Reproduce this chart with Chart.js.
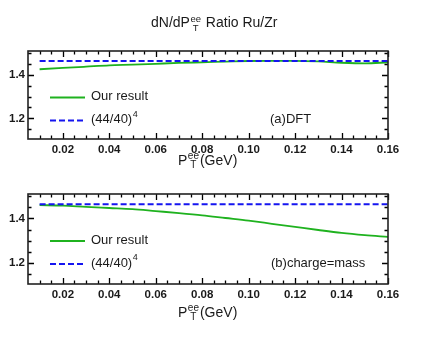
<!DOCTYPE html>
<html>
<head>
<meta charset="utf-8">
<script src="https://cdn.jsdelivr.net/npm/chart.js@4.4.1/dist/chart.umd.min.js"></script>
<style>
  html, body { margin: 0; padding: 0; background: #fff; }
  #wrap { position: relative; width: 425px; height: 347px; overflow: hidden; }
  canvas { position: absolute; left: 0; }
  #c1 { top: 0; }
  #c2 { top: 170px; }
</style>
</head>
<body>
<div id="wrap">
  <canvas id="c1" width="425" height="170"></canvas>
  <canvas id="c2" width="425" height="177"></canvas>
</div>
<script>
// P_T^ee in GeV
const pt = [0.01, 0.02, 0.03, 0.04, 0.05, 0.06, 0.07, 0.08, 0.09, 0.10, 0.11, 0.12, 0.13, 0.14, 0.15, 0.16];
// (a) DFT
const resultDFT = [1.426, 1.432, 1.438, 1.444, 1.447, 1.451, 1.455, 1.458, 1.461, 1.464, 1.465, 1.465, 1.462, 1.456, 1.453, 1.458];
// (b) charge = mass
const resultCM = [1.460, 1.458, 1.452, 1.447, 1.442, 1.433, 1.424, 1.414, 1.402, 1.390, 1.376, 1.362, 1.348, 1.335, 1.325, 1.317];
// (44/40)^4
const ratio4 = pt.map(() => Math.pow(44 / 40, 4));

const xTicks = [0.02, 0.04, 0.06, 0.08, 0.10, 0.12, 0.14, 0.16];
const yTicks = [1.2, 1.4];

const GROEN = '#1fb21f';
const BLAUW = '#1515f0';
const INKT = '#1a1a1a';
const FONT = 'Arial, "Liberation Sans", sans-serif';

function tekst(ctx, s, x, y, size) {
  ctx.font = size + 'px ' + FONT;
  ctx.fillText(s, x, y);
  return x + ctx.measureText(s).width;
}

// P met ee erboven en T eronder
function tekenPT(ctx, x, y, size) {
  ctx.textBaseline = 'alphabetic';
  ctx.textAlign = 'left';
  x = tekst(ctx, 'P', x, y, size);
  const klein = Math.round(size * 0.68);
  ctx.font = klein + 'px ' + FONT;
  const w1 = ctx.measureText('ee').width;
  const w2 = ctx.measureText('T').width;
  ctx.fillText('ee', x + 0.5, y - size * 0.4);
  ctx.fillText('T', x + 0.5 + (w1 - w2) / 2, y + size * 0.24);
  return x + Math.max(w1, w2) + 1.5;
}

const decoratie = {
  id: 'decoratie',
  afterDraw(chart, args, opts) {
    const ctx = chart.ctx;
    const a = chart.chartArea;
    const xs = chart.scales.x, ys = chart.scales.y;
    ctx.save();
    ctx.strokeStyle = '#000';
    ctx.lineWidth = 1.3;
    ctx.setLineDash([]);
    // x streepjes onder en boven, naar binnen
    for (let i = 2; i <= 32; i++) {
      const px = Math.round(xs.getPixelForValue(i * 0.005)) + 0.5;
      const lang = i % 4 === 0 ? 6 : 3.5;
      ctx.beginPath();
      ctx.moveTo(px, a.bottom); ctx.lineTo(px, a.bottom - lang);
      ctx.moveTo(px, a.top); ctx.lineTo(px, a.top + lang);
      ctx.stroke();
    }
    // y streepjes links en rechts
    for (let i = 23; i <= 30; i++) {
      const py = Math.round(ys.getPixelForValue(i * 0.05)) + 0.5;
      if (py < a.top || py > a.bottom) continue;
      const lang = i % 4 === 0 ? 6 : 3.5;
      ctx.beginPath();
      ctx.moveTo(a.left, py); ctx.lineTo(a.left + lang, py);
      ctx.moveTo(a.right, py); ctx.lineTo(a.right - lang, py);
      ctx.stroke();
    }
    ctx.strokeStyle = '#222';
    ctx.lineWidth = 1.6;
    ctx.strokeRect(a.left, a.top, a.right - a.left, a.bottom - a.top);

    // legenda
    const lx = 50, tx = 91;
    ctx.lineWidth = 2;
    ctx.strokeStyle = GROEN;
    ctx.beginPath(); ctx.moveTo(lx, opts.leg1); ctx.lineTo(lx + 35, opts.leg1); ctx.stroke();
    ctx.strokeStyle = BLAUW;
    ctx.setLineDash([6, 3]);
    ctx.beginPath(); ctx.moveTo(lx, opts.leg2); ctx.lineTo(lx + 35, opts.leg2); ctx.stroke();
    ctx.setLineDash([]);
    ctx.fillStyle = INKT;
    ctx.textAlign = 'left';
    ctx.textBaseline = 'middle';
    tekst(ctx, 'Our result', tx, opts.leg1 - 1, 13);
    const e = tekst(ctx, '(44/40)', tx, opts.leg2 - 1, 13);
    tekst(ctx, '4', e + 0.5, opts.leg2 - 6, 9);
    tekst(ctx, opts.label, opts.labelX, opts.leg2 - 1, 13);

    // as-titel
    const x = tekenPT(ctx, 178, opts.asY, 14);
    tekst(ctx, '(GeV)', x, opts.asY, 14);

    if (opts.titel) {
      ctx.textBaseline = 'alphabetic';
      const t = tekst(ctx, 'dN/dP', 151, 27, 14);
      ctx.font = '9.5px ' + FONT;
      const w1 = ctx.measureText('ee').width;
      const w2 = ctx.measureText('T').width;
      ctx.fillText('ee', t + 0.5, 21.5);
      ctx.fillText('T', t + 0.5 + (w1 - w2) / 2, 30.5);
      tekst(ctx, ' Ratio Ru/Zr', t + w1 + 1.5, 27, 14);
    }
    ctx.restore();
  }
};

function maakPaneel(id, resultaat, boven, xHoogte, opts) {
  return new Chart(document.getElementById(id), {
    type: 'line',
    data: {
      datasets: [
        {
          label: '(44/40)^4',
          data: pt.map((x, i) => ({ x, y: ratio4[i] })),
          borderColor: BLAUW,
          borderWidth: 2,
          borderDash: [6, 3],
          pointRadius: 0,
          fill: false,
        },
        {
          label: 'Our result',
          data: pt.map((x, i) => ({ x, y: resultaat[i] })),
          borderColor: GROEN,
          borderWidth: 1.8,
          pointRadius: 0,
          cubicInterpolationMode: 'monotone',
          fill: false,
        }
      ]
    },
    options: {
      responsive: false,
      animation: false,
      events: [],
      layout: { padding: { left: 0, right: 37, top: boven, bottom: 0 } },
      plugins: { legend: { display: false }, title: { display: false }, tooltip: { enabled: false }, decoratie: opts },
      scales: {
        x: {
          type: 'linear',
          min: 0.005,
          max: 0.16,
          afterFit: s => { s.height = xHoogte; },
          afterBuildTicks: s => { s.ticks = xTicks.map(v => ({ value: v })); },
          grid: { display: false, drawTicks: false },
          border: { display: false },
          ticks: {
            padding: opts.tickPad,
            maxRotation: 0,
            autoSkip: false,
            color: INKT,
            font: { family: FONT, size: 11.5, weight: 'bold' },
            callback: v => v.toFixed(2)
          }
        },
        y: {
          min: 1.105,
          max: 1.51,
          afterFit: s => { s.width = 28; },
          afterBuildTicks: s => { s.ticks = yTicks.map(v => ({ value: v })); },
          grid: { display: false, drawTicks: false },
          border: { display: false },
          ticks: {
            padding: 3,
            color: INKT,
            font: { family: FONT, size: 11.5, weight: 'bold' },
            callback: v => v.toFixed(1)
          }
        }
      }
    },
    plugins: [decoratie]
  });
}

maakPaneel('c1', resultDFT, 51, 31, { leg1: 97.5, leg2: 120.5, label: '(a)DFT', labelX: 270, titel: true, asY: 165, tickPad: 4 });
maakPaneel('c2', resultCM, 24, 63, { leg1: 71, leg2: 94, label: '(b)charge=mass', labelX: 271, titel: false, asY: 147, tickPad: 4 });
</script>
</body>
</html>
